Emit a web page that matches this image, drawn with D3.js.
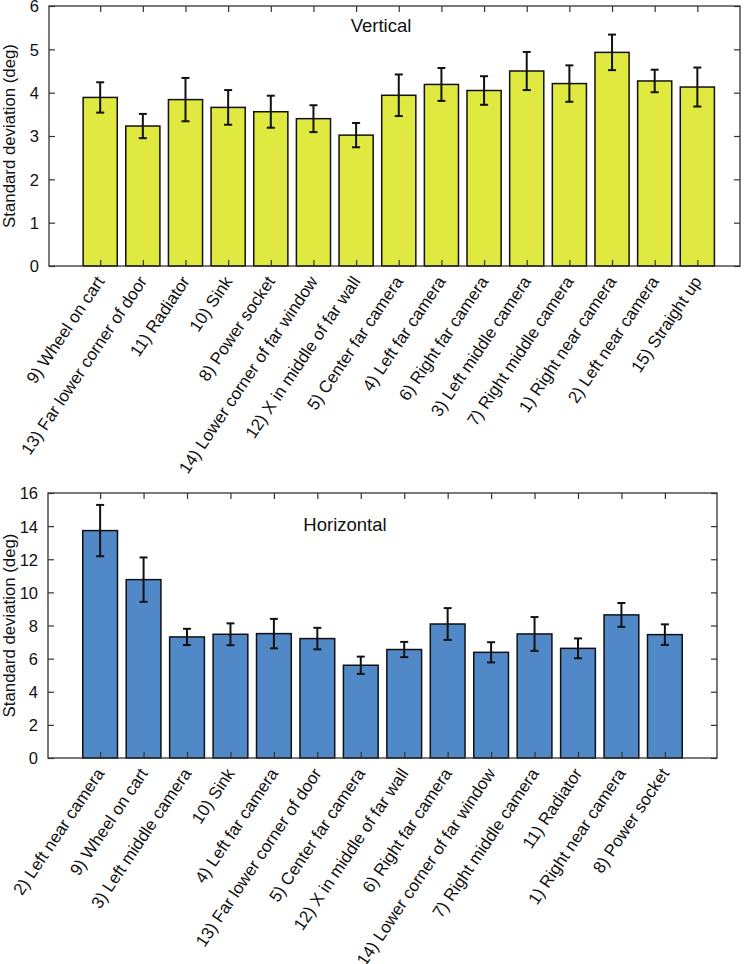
<!DOCTYPE html>
<html>
<head>
<meta charset="utf-8">
<script src="https://cdn.jsdelivr.net/npm/d3@7"></script>
<style>
  body { margin: 0; background: #fff; }
  svg text { font-family: "Liberation Sans", Arial, sans-serif; fill: #111; }
</style>
</head>
<body>
<div id="plot"></div>
<script>
// vertical panel
var vertLabels = ["9) Wheel on cart", "13) Far lower corner of door", "11) Radiator", "10) Sink",
    "8) Power socket", "14) Lower corner of far window", "12) X in middle of far wall",
    "5) Center far camera", "4) Left far camera", "6) Right far camera", "3) Left middle camera",
    "7) Right middle camera", "1) Right near camera", "2) Left near camera", "15) Straight up"];
var vertMeans = [3.89, 3.23, 3.84, 3.66, 3.56, 3.40, 3.02, 3.94, 4.19, 4.05, 4.50, 4.21, 4.93, 4.27, 4.13];
var vertErrs = [0.35, 0.28, 0.50, 0.40, 0.37, 0.31, 0.28, 0.48, 0.38, 0.33, 0.44, 0.42, 0.41, 0.26, 0.45];
var vertTicks = [0, 1, 2, 3, 4, 5, 6];

// horizontal panel
var horizLabels = ["2) Left near camera", "9) Wheel on cart", "3) Left middle camera", "10) Sink",
    "4) Left far camera", "13) Far lower corner of door", "5) Center far camera",
    "12) X in middle of far wall", "6) Right far camera", "14) Lower corner of far window",
    "7) Right middle camera", "11) Radiator", "1) Right near camera", "8) Power socket"];
var horizMeans = [13.73, 10.77, 7.31, 7.47, 7.51, 7.21, 5.60, 6.55, 8.09, 6.38, 7.49, 6.62, 8.64, 7.45];
var horizErrs = [1.55, 1.34, 0.49, 0.66, 0.89, 0.65, 0.52, 0.46, 0.96, 0.61, 1.02, 0.60, 0.72, 0.62];
var horizTicks = [0, 2, 4, 6, 8, 10, 12, 14, 16];

var svg = d3.select("#plot").append("svg")
    .attr("width", 750)
    .attr("height", 964);

function drawPanel(opt) {
    var n = opt.labels.length;
    var rows = opt.labels.map(function (d, i) {
        return { idx: i + 1, label: d, mean: opt.means[i], err: opt.errs[i] };
    });

    var xScale = d3.scaleLinear()
        .domain([-0.2, opt.xmax])
        .range([opt.left, opt.right]);
    var yScale = d3.scaleLinear()
        .domain([0, opt.ymax])
        .range([opt.bottom, opt.top]);

    var g = svg.append("g");
    var barW = xScale(0.8) - xScale(0);

    g.selectAll("rect.bar")
        .data(rows).enter().append("rect")
        .attr("class", "bar")
        .attr("x", function (d) { return xScale(d.idx) - barW / 2; })
        .attr("y", function (d) { return yScale(d.mean); })
        .attr("width", barW)
        .attr("height", function (d) { return yScale(0) - yScale(d.mean); })
        .style("fill", opt.color)
        .style("stroke", "#111")
        .style("stroke-width", 1.5);

    // error bars
    var eb = g.selectAll("g.err").data(rows).enter().append("g").attr("class", "err")
        .style("stroke", "#111").style("stroke-width", 2);
    eb.append("line")
        .attr("x1", function (d) { return xScale(d.idx); })
        .attr("x2", function (d) { return xScale(d.idx); })
        .attr("y1", function (d) { return yScale(d.mean - d.err); })
        .attr("y2", function (d) { return yScale(d.mean + d.err); });
    eb.append("line")
        .attr("x1", function (d) { return xScale(d.idx) - 4; })
        .attr("x2", function (d) { return xScale(d.idx) + 4; })
        .attr("y1", function (d) { return yScale(d.mean + d.err); })
        .attr("y2", function (d) { return yScale(d.mean + d.err); });
    eb.append("line")
        .attr("x1", function (d) { return xScale(d.idx) - 4; })
        .attr("x2", function (d) { return xScale(d.idx) + 4; })
        .attr("y1", function (d) { return yScale(d.mean - d.err); })
        .attr("y2", function (d) { return yScale(d.mean - d.err); });

    var idxs = d3.range(1, n + 1);
    var axes = [
        d3.axisLeft(yScale).tickValues(opt.ticks).tickSize(-6).tickPadding(10).tickFormat(d3.format("d")),
        d3.axisRight(yScale).tickValues(opt.ticks).tickSize(-6).tickFormat(""),
        d3.axisBottom(xScale).tickValues(idxs).tickSize(-6).tickFormat(""),
        d3.axisTop(xScale).tickValues(idxs).tickSize(-6).tickFormat("")
    ];
    var pos = ["translate(" + opt.left + ",0)", "translate(" + opt.right + ",0)",
        "translate(0," + opt.bottom + ")", "translate(0," + opt.top + ")"];
    axes.forEach(function (a, k) {
        var ax = g.append("g").call(a).attr("transform", pos[k]);
        ax.select(".domain").remove();
        ax.selectAll("line").style("stroke", "#333").style("stroke-width", 1.2);
        ax.selectAll("text").style("font-size", "16.5px").style("font-family", "Liberation Sans, Arial, sans-serif")
            .attr("dy", "0.36em").attr("fill", "#111");
    });

    g.append("rect")
        .attr("x", opt.left).attr("y", opt.top)
        .attr("width", opt.right - opt.left).attr("height", opt.bottom - opt.top)
        .style("fill", "none").style("stroke", "#333").style("stroke-width", 1.3);

    // rotated category labels
    var ly = opt.bottom + 12;
    g.selectAll("text.cat")
        .data(rows).enter().append("text")
        .attr("class", "cat")
        .attr("x", function (d) { return xScale(d.idx); })
        .attr("y", ly)
        .attr("dy", "0.35em")
        .attr("transform", function (d) { return "rotate(-56," + xScale(d.idx) + "," + ly + ")"; })
        .style("text-anchor", "end")
        .style("font-size", "17px")
        .text(function (d) { return d.label; });

    g.append("text")
        .attr("transform", "translate(" + 15 + "," + (opt.top + opt.bottom) / 2 + ") rotate(-90)")
        .style("text-anchor", "middle")
        .style("font-size", "16.8px")
        .text("Standard deviation (deg)");

    g.append("text")
        .attr("x", opt.titleX).attr("y", opt.titleY)
        .style("text-anchor", "middle")
        .style("font-size", "18.5px")
        .text(opt.title);
}

drawPanel({
    labels: vertLabels, means: vertMeans, errs: vertErrs, ticks: vertTicks,
    ymax: 6, xmax: 16, left: 49, right: 740, top: 6, bottom: 266,
    color: "#dfe93f", title: "Vertical", titleX: 381, titleY: 32
});

drawPanel({
    labels: horizLabels, means: horizMeans, errs: horizErrs, ticks: horizTicks,
    ymax: 16, xmax: 15.2, left: 48, right: 717, top: 493, bottom: 758,
    color: "#5189c8", title: "Horizontal", titleX: 345, titleY: 531
});
</script>
</body>
</html>
